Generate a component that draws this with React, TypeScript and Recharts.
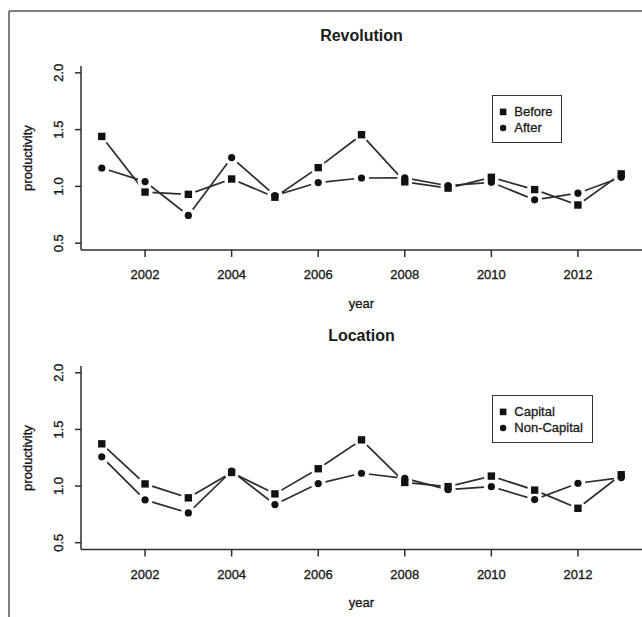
import React from 'react';
import { LineChart, Line, XAxis, YAxis, Legend } from 'recharts';

// values, one per year
const years = [2001, 2002, 2003, 2004, 2005, 2006, 2007, 2008, 2009, 2010, 2011, 2012, 2013];
const revolutionBefore = [1.44, 0.95, 0.93, 1.065, 0.905, 1.165, 1.455, 1.04, 0.985, 1.08, 0.972, 0.836, 1.11];
const revolutionAfter = [1.162, 1.042, 0.744, 1.254, 0.92, 1.034, 1.074, 1.075, 1.006, 1.036, 0.882, 0.94, 1.08];
const locationCapital = [1.373, 1.019, 0.896, 1.12, 0.931, 1.153, 1.408, 1.032, 0.995, 1.088, 0.964, 0.804, 1.1];
const locationNonCapital = [1.258, 0.878, 0.763, 1.133, 0.837, 1.022, 1.113, 1.068, 0.968, 0.995, 0.881, 1.025, 1.075];

const xTicks = [2002, 2004, 2006, 2008, 2010, 2012];
const yTicks = [0.5, 1.0, 1.5, 2.0];

const FONT = '"Liberation Sans", Arial, Helvetica, sans-serif';
const INK = '#1a1a1a';
const LINE = '#2e2e2e';

// the scan is a bit blurry, so text gets a hairline stroke to look as heavy
const heavy = { stroke: INK, strokeWidth: 0.35 };

const YTick = ({ y, payload }: any) => (
  <text
    x={63}
    y={y}
    transform={`rotate(-90 63 ${y})`}
    textAnchor="middle"
    fill={INK}
    fontSize={13}
    fontFamily={FONT}
    {...heavy}
  >
    {Number(payload.value).toFixed(1)}
  </text>
);

const XTick = ({ x, y, payload }: any) => (
  <text x={x} y={y} dy="0.71em" textAnchor="middle" fill={INK} fontSize={13} fontFamily={FONT} {...heavy}>
    {payload.value}
  </text>
);

const haloDot = (props: any) => (
  <circle key={`h-${props.index}`} cx={props.cx} cy={props.cy} r={7.5} fill="#fff" stroke="none" />
);

const squareDot = (props: any) => (
  <rect key={`s-${props.index}`} x={props.cx - 3.7} y={props.cy - 3.7} width={7.4} height={7.4} fill="#111" />
);

const circleDot = (props: any) => (
  <circle key={`c-${props.index}`} cx={props.cx} cy={props.cy} r={3.6} fill="#111" />
);

function makeLegend(order: string[], width: number) {
  return ({ payload }: any) => {
    const items = (payload || [])
      .filter((p: any) => p.type !== 'none')
      .sort((p: any, q: any) => order.indexOf(p.value) - order.indexOf(q.value));
    return (
      <div
        style={{
          position: 'relative',
          width,
          height: 48,
          boxSizing: 'border-box',
          border: '1.5px solid #333',
          background: '#fff',
          fontFamily: FONT,
          fontSize: 13,
          color: INK,
          WebkitTextStroke: '0.3px #1a1a1a',
        }}
      >
        {items.map((item: any, i: number) => (
          <div key={item.value} style={{ position: 'absolute', left: 0, top: 8.2 + i * 15.6, height: 16, width: width - 3 }}>
            <svg width={20} height={16} style={{ position: 'absolute', left: 0, top: 0 }}>
              {i === 0 ? (
                <rect x={6.8} y={4.6} width={6.6} height={6.6} fill="#111" />
              ) : (
                <circle cx={10.1} cy={8} r={3.2} fill="#111" />
              )}
            </svg>
            <span style={{ position: 'absolute', left: 21.8, top: 0, lineHeight: '16px', whiteSpace: 'nowrap' }}>
              {item.value}
            </span>
          </div>
        ))}
      </div>
    );
  };
}

interface PanelProps {
  title: string;
  nameA: string;
  nameB: string;
  seriesA: number[];
  seriesB: number[];
  legendWidth: number;
  top: number;
  height: number;
  plotBottom: number;
  yearBaseline: number;
}

function Panel({ title, nameA, nameB, seriesA, seriesB, legendWidth, top, height, plotBottom, yearBaseline }: PanelProps) {
  const data = years.map((year, i) => ({
    year,
    aLine: seriesA[i],
    bLine: seriesB[i],
    a: seriesA[i],
    b: seriesB[i],
  }));

  return (
    <div style={{ position: 'absolute', left: 0, top, width: 642, height }}>
      <LineChart width={642} height={height} data={data} margin={{ top: 66, right: 0, bottom: 0, left: 0 }}>
        <XAxis
          dataKey="year"
          type="number"
          domain={[2000.52, 2013.48]}
          ticks={xTicks}
          allowDataOverflow
          interval={0}
          height={height - plotBottom}
          tickSize={7}
          tickMargin={13}
          stroke={LINE}
          strokeWidth={1.5}
          tick={<XTick />}
        />
        <YAxis
          type="number"
          domain={[0.44, 2.06]}
          ticks={yTicks}
          allowDataOverflow
          interval={0}
          width={81}
          tickSize={6}
          stroke={LINE}
          strokeWidth={1.5}
          tick={<YTick />}
        />
        <Legend
          layout="vertical"
          align="center"
          verticalAlign="middle"
          wrapperStyle={{ left: 491.5, top: 95, width: legendWidth, height: 48 }}
          content={makeLegend([nameA, nameB], legendWidth)}
        />
        <Line dataKey="aLine" stroke={LINE} strokeWidth={1.7} dot={haloDot} activeDot={false} legendType="none" isAnimationActive={false} />
        <Line dataKey="bLine" stroke={LINE} strokeWidth={1.7} dot={haloDot} activeDot={false} legendType="none" isAnimationActive={false} />
        <Line dataKey="a" name={nameA} stroke="none" dot={squareDot} activeDot={false} legendType="square" isAnimationActive={false} />
        <Line dataKey="b" name={nameB} stroke="none" dot={circleDot} activeDot={false} legendType="circle" isAnimationActive={false} />
      </LineChart>
      <svg width={642} height={height} style={{ position: 'absolute', left: 0, top: 0, pointerEvents: 'none' }}>
        <text x={361.5} y={41} textAnchor="middle" fontFamily={FONT} fontSize={16} fontWeight="bold" fill={INK}>
          {title}
        </text>
        <text x={361.5} y={yearBaseline} textAnchor="middle" fontFamily={FONT} fontSize={13} fill={INK} {...heavy}>
          year
        </text>
        <text x={32} y={158} transform="rotate(-90 32 158)" textAnchor="middle" fontFamily={FONT} fontSize={13} fill={INK} {...heavy}>
          productivity
        </text>
      </svg>
    </div>
  );
}

export default function App() {
  return (
    <div style={{ position: 'absolute', left: 0, top: 0, width: 642, height: 617, background: '#fff', overflow: 'hidden' }}>
      <Panel
        title="Revolution"
        nameA="Before"
        nameB="After"
        seriesA={revolutionBefore}
        seriesB={revolutionAfter}
        legendWidth={70}
        top={0}
        height={312}
        plotBottom={250}
        yearBaseline={308}
      />
      <Panel
        title="Location"
        nameA="Capital"
        nameB="Non-Capital"
        seriesA={locationCapital}
        seriesB={locationNonCapital}
        legendWidth={101}
        top={300}
        height={317}
        plotBottom={249.5}
        yearBaseline={307}
      />
      <svg width={642} height={617} style={{ position: 'absolute', left: 0, top: 0, pointerEvents: 'none' }}>
        <line x1={9} y1={11} x2={642} y2={11} stroke="#555" strokeWidth={1.5} />
        <line x1={9} y1={11} x2={9} y2={617} stroke="#555" strokeWidth={1.5} />
      </svg>
    </div>
  );
}
